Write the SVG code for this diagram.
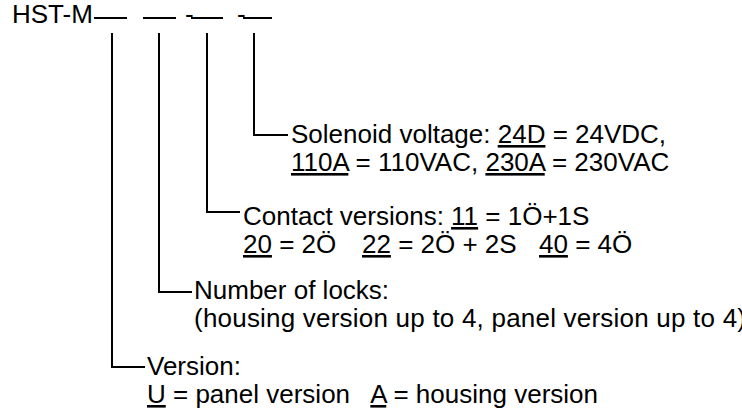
<svg xmlns="http://www.w3.org/2000/svg" width="742" height="415" viewBox="0 0 742 415">
<style>
text{font-family:"Liberation Sans",Arial,sans-serif;font-size:26px;fill:#000}
.u{text-decoration:underline}
line,path{stroke:#000;stroke-width:2;fill:none}
</style>
<rect width="742" height="415" fill="#fff"/>
<g id="code">
<text x="12" y="23">HST-M</text>
<line x1="94" y1="18" x2="127" y2="18"/>
<line x1="143" y1="18" x2="176" y2="18"/>
<text x="185" y="23">-</text>
<line x1="191" y1="18" x2="223" y2="18"/>
<text x="237" y="23">-</text>
<line x1="243" y1="18" x2="272" y2="18"/>
</g>
<g id="connectors">
<path d="M254 33V135H288"/>
<path d="M207 33V212H240"/>
<path d="M159 33V292H192"/>
<path d="M112 33V367H145"/>
</g>
<g id="solenoid">
<text x="291" y="143">Solenoid voltage: <tspan class="u">24D</tspan> = 24VDC,</text>
<text x="291" y="171"><tspan class="u">110A</tspan> = 110VAC, <tspan class="u">230A</tspan> = 230VAC</text>
</g>
<g id="contacts">
<text x="243" y="225">Contact versions: <tspan class="u">11</tspan> = 1Ö+1S</text>
<text y="253" xml:space="preserve"><tspan x="243" class="u">20</tspan><tspan> = 2Ö</tspan><tspan x="362" class="u">22</tspan><tspan> = 2Ö + 2S</tspan><tspan x="539" class="u">40</tspan><tspan> = 4Ö</tspan></text>
</g>
<g id="locks">
<text x="194" y="299">Number of locks:</text>
<text x="194" y="327" textLength="552" lengthAdjust="spacing">(housing version up to 4, panel version up to 4)</text>
</g>
<g id="version">
<text x="147" y="375">Version:</text>
<text x="147" y="403" xml:space="preserve"><tspan class="u">U</tspan> = panel version   <tspan class="u">A</tspan> = housing version</text>
</g>
</svg>
